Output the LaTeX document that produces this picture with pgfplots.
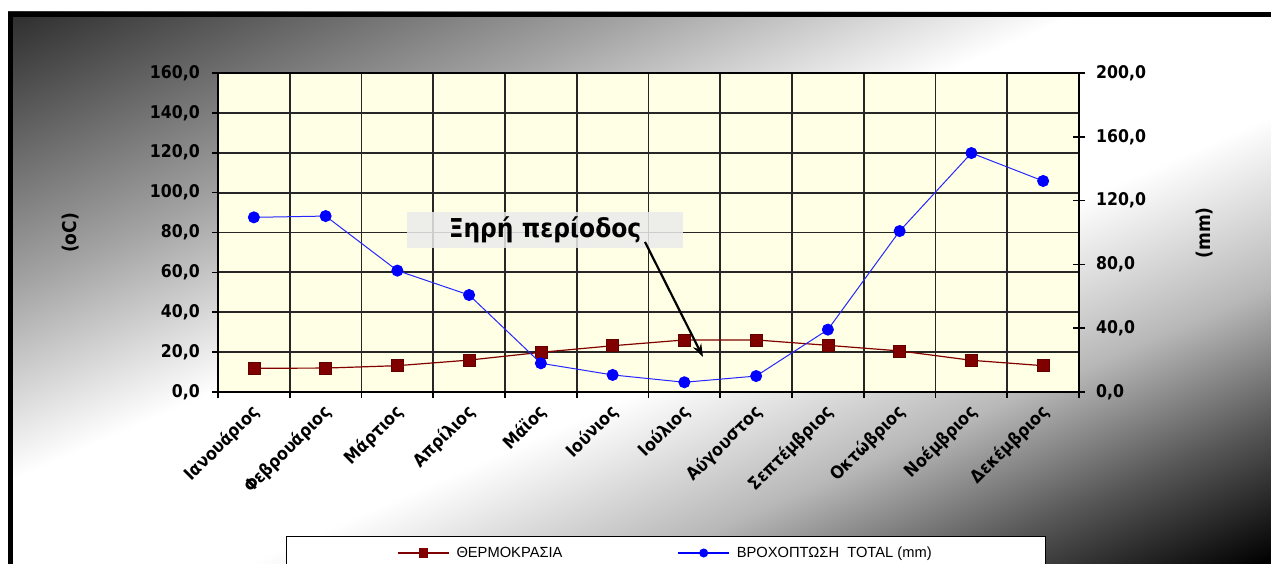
\documentclass[border=0pt]{standalone}
\usepackage{pgfplots}
\pgfplotsset{compat=1.18}
\usepackage{fontspec}
\setmainfont{Liberation Sans}
\newfontfamily\tah{DejaVu Sans}[FakeStretch=0.9]
\usetikzlibrary{arrows.meta}

\definecolor{maroon}{HTML}{800000}
\definecolor{cream}{HTML}{FFFFE6}
\definecolor{boxgrey}{HTML}{EBEBEB}
\colorlet{bga}{black!82}
\colorlet{bgb}{black!36}
\colorlet{bgd}{black!28}
\colorlet{bge}{black!66}

% diagonal background: dark top left, white band, black bottom right
\pgfdeclarehorizontalshading{bgshade}{100bp}{color(0bp)=(bga); color(14.64bp)=(bga);
  color(32.3bp)=(bgb); color(44.7bp)=(white); color(56.7bp)=(white); color(67.7bp)=(bgd);
  color(76.5bp)=(bge); color(85.36bp)=(black); color(100bp)=(black)}

\newcommand\tickfont{\tah\bfseries\fontsize{17.5}{20}\selectfont}

\pgfplotstableread{
m temp rain
0  11.9 109.5
1  12.0 110.3
2  13.2  76.1
3  16.0  60.8
4  19.9  18.0
5  23.2  10.7
6  26.1   6.1
7  26.1  10.0
8  23.4  39.1
9  20.6 100.9
10 15.9 149.8
11 13.2 132.3
}\climate

\begin{document}
\begin{tikzpicture}[x=1pt,y=1pt]
\useasboundingbox (0,0) rectangle (1271,564);
\fill[white] (0,0) rectangle (1271,564);
\begin{scope}[transform canvas={xshift=8pt, xscale=2.288}]
  \shade[shading=bgshade, shading angle=-45] (0,0) rectangle (552,552);
\end{scope}
\fill[black] (8,547) rectangle (1271,552);
\fill[black] (8,0) rectangle (13,552);
\draw[black, line width=1pt, fill=white] (286,-10) rectangle (1045,27);

\pgfplotsset{
  numfmt/.style={/pgf/number format/fixed, /pgf/number format/fixed zerofill,
    /pgf/number format/precision=1, /pgf/number format/use comma,
    /pgf/number format/assume math mode=true},
}

\begin{axis}[
  at={(218pt,172pt)}, anchor=south west, scale only axis,
  width=861pt, height=319pt,
  xmin=-0.5, xmax=11.5, ymin=0, ymax=160,
  axis background/.style={fill=cream},
  axis line style={black, line width=1.8pt},
  xtick={0,...,11},
  xticklabels={Ιανουάριος, Φεβρουάριος, Μάρτιος, Απρίλιος, Μάϊος, Ιούνιος,
    Ιούλιος, Αύγουστος, Σεπτέμβριος, Οκτώβριος, Νοέμβριος, Δεκέμβριος},
  minor xtick={-0.5,0.5,...,11.5},
  major x tick style={draw=none},
  xminorgrids=true, ymajorgrids=true,
  grid style={black!85, line width=1.8pt},
  minor grid style={black!85, line width=1.8pt},
  ytick={0,20,...,160},
  xtick pos=bottom, ytick pos=left,
  tick align=outside, major tick length=6pt, minor tick length=6pt,
  tick style={black, line width=1.6pt},
  yticklabel style={numfmt, font=\tickfont, anchor=east, inner sep=0pt, xshift=-12pt},
  xticklabel style={font=\tickfont, inner sep=0pt, xshift=3pt, yshift=-11pt, rotate=45, anchor=east},
  clip=false,
]
\addplot[color=maroon, line width=1.2pt, mark=square*, mark size=6pt,
  mark options={fill=maroon, draw=maroon!75!black, line width=0.6pt}]
  table[x=m, y=temp] {\climate};
\end{axis}

\begin{axis}[
  at={(218pt,172pt)}, anchor=south west, scale only axis,
  width=861pt, height=319pt,
  xmin=-0.5, xmax=11.5, ymin=0, ymax=200,
  axis x line=none, axis y line*=right,
  axis line style={black, line width=1.8pt},
  ytick={0,40,...,200},
  ytick align=center, major tick length=12pt,
  tick style={black, line width=1.6pt},
  yticklabel style={numfmt, font=\tickfont, anchor=west, inner sep=0pt, xshift=11pt},
  clip=false,
  legend image code/.code={\draw[mark repeat=2, mark phase=2]
    plot coordinates {(0pt,0pt) (25.5pt,0pt) (51pt,0pt)};},
  legend style={at={(0.2079,-0.5047)}, anchor=west, draw=none, fill=none,
    inner sep=0pt, font=\fontsize{14.7}{16}\selectfont, legend columns=2,
    nodes={inner sep=0pt},
    /tikz/every odd column/.append style={column sep=7pt},
    /tikz/every even column/.append style={column sep=115pt}},
]
\addplot[color=blue!85!white, line width=1pt, mark=*, mark size=5.5pt,
  mark options={fill=blue, draw=blue}, forget plot]
  table[x=m, y=rain] {\climate};
\addlegendimage{color=maroon, line width=1.3pt, mark=square*, mark size=4pt, mark options={fill=maroon}}
\addlegendentry{ΘΕΡΜΟΚΡΑΣΙΑ}
\addlegendimage{color=blue, line width=1.3pt, mark=*, mark size=3.8pt, mark options={fill=blue}}
\addlegendentry{ΒΡΟΧΟΠΤΩΣΗ\ \ TOTAL (mm)}
\end{axis}

\node[rotate=90, font=\tah\bfseries\fontsize{19}{22}\selectfont] at (71,331) {(oC)};
\node[rotate=90, font=\tah\bfseries\fontsize{19}{22}\selectfont] at (1205,331) {(mm)};
\node[fill=boxgrey, fill opacity=0.85, text opacity=1, minimum width=276pt, minimum height=36pt,
  inner sep=0pt, font=\tah\bfseries\fontsize{26}{30}\selectfont] at (545,334) {Ξηρή περίοδος};
\draw[-{Stealth[length=13pt,width=9pt]}, line width=2.2pt, black] (645,322) -- (703,207);
\end{tikzpicture}
\end{document}
